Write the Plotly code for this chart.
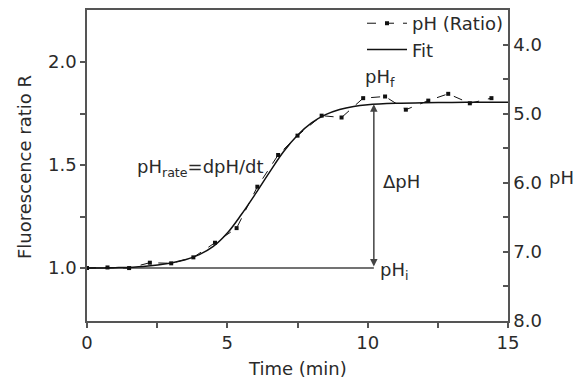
import plotly.graph_objects as go

# Measured data (Fluorescence ratio R vs time)
t_data = [0.0, 0.73, 1.5, 2.24, 3.0, 3.79, 4.56, 5.33, 6.07, 6.81, 7.50, 8.36, 9.07, 9.84, 10.62, 11.36, 12.16, 12.87, 13.64, 14.41]
r_data = [1.0, 1.003, 1.0, 1.026, 1.023, 1.052, 1.123, 1.194, 1.395, 1.549, 1.643, 1.740, 1.731, 1.825, 1.833, 1.769, 1.813, 1.846, 1.800, 1.825]

# Fit curve
t_fit = [0.0, 1.0, 2.0, 3.0, 3.5, 4.0, 4.5, 5.0, 5.5, 6.0, 6.5, 7.0, 7.5, 8.0, 8.5, 9.0, 9.5, 10.0, 11.0, 12.0, 13.0, 14.0, 15.0]
r_fit = [1.0, 1.002, 1.008, 1.025, 1.04, 1.065, 1.105, 1.17, 1.26, 1.36, 1.465, 1.565, 1.645, 1.705, 1.745, 1.77, 1.785, 1.793, 1.8, 1.803, 1.804, 1.805, 1.805]

# Guide values
t_mark = 10.22
r_init = 1.0
r_final = 1.795

xticks = [0, 5, 10, 15]
yticks = [1.0, 1.5, 2.0]
ph_ticks = [4.0, 5.0, 6.0, 7.0, 8.0]

FONT = "DejaVu Sans, sans-serif"
FS = 18
AX = "#555555"
TXT = "#2a2a2a"

W, H = 580, 381
L, R, T, B = 87, 72, 10, 60
PW, PH = W - L - R, H - T - B


def px(xp):
    return (xp - L) / PW


def py(yp):
    return (H - B - yp) / PH


fig = go.Figure()

# horizontal guide line at initial level
fig.add_trace(go.Scatter(x=[0, t_mark], y=[r_init, r_init], mode="lines",
                         line=dict(color="#444444", width=1.5), showlegend=False, hoverinfo="skip"))

fig.add_trace(go.Scatter(x=t_data, y=r_data, mode="lines+markers", name="pH (Ratio)",
                         line=dict(color="#111111", width=1, dash="dash"),
                         marker=dict(symbol="square", size=4, color="#111111")))
fig.add_trace(go.Scatter(x=t_fit, y=r_fit, mode="lines", name="Fit",
                         line=dict(color="#111111", width=1.5, shape="spline")))

# dummy trace for right axis
fig.add_trace(go.Scatter(x=[None], y=[None], yaxis="y2", showlegend=False))

fig.add_annotation(x=t_mark, y=r_final, ax=t_mark, ay=r_init, xref="x", yref="y", axref="x", ayref="y",
                   showarrow=True, arrowhead=2, startarrowhead=2, arrowside="end+start",
                   arrowsize=1, arrowwidth=1.5, arrowcolor="#444444", text="")

ann_font = dict(family=FONT, size=FS, color=TXT)
fig.add_annotation(x=9.83, y=1.925, text="pH<sub>f</sub>", showarrow=False, xanchor="left", yanchor="middle", font=ann_font)
fig.add_annotation(x=10.47, y=1.422, text="ΔpH", showarrow=False, xanchor="left", yanchor="middle", font=ann_font)
fig.add_annotation(x=10.37, y=0.985, text="pH<sub>i</sub>", showarrow=False, xanchor="left", yanchor="middle", font=ann_font)
fig.add_annotation(x=1.72, y=1.485, text="pH<sub>rate</sub>=dpH/dt", showarrow=False, xanchor="left", yanchor="middle", font=ann_font)

# axis titles as paper annotations
fig.add_annotation(x=px(561), y=py(177), xref="paper", yref="paper", text="pH", showarrow=False,
                   xanchor="center", yanchor="middle", font=ann_font)
fig.add_annotation(x=px(24), y=py(167), xref="paper", yref="paper", text="Fluorescence ratio R", showarrow=False,
                   xanchor="center", yanchor="middle", textangle=-90, font=ann_font)
fig.add_annotation(x=px(297), y=py(368), xref="paper", yref="paper", text="Time (min)", showarrow=False,
                   xanchor="center", yanchor="middle", font=ann_font)

fig.update_layout(
    width=W, height=H,
    margin=dict(l=L, r=R, t=T, b=B, autoexpand=False),
    paper_bgcolor="white", plot_bgcolor="white",
    font=dict(family=FONT, size=FS, color=TXT),
    showlegend=True,
    legend=dict(x=1.0, y=1.016, xanchor="right", yanchor="top", bgcolor="rgba(0,0,0,0)",
                font=dict(family=FONT, size=FS, color=TXT), tracegroupgap=0, borderwidth=0,
                itemwidth=40),
    xaxis=dict(range=[0, 15], tickvals=xticks, showline=True, linecolor=AX, linewidth=1.5,
               mirror=True, ticks="outside", ticklen=5, tickcolor=AX, tickwidth=1.5,
               minor=dict(tickvals=[2.5, 7.5, 12.5], ticks="outside", ticklen=5, tickcolor=AX, tickwidth=1.5),
               showgrid=False, zeroline=False),
    yaxis=dict(range=[0.743, 2.253], tickvals=yticks, tickformat=".1f", showline=True, linecolor=AX, linewidth=1.5,
               ticks="outside", ticklen=5, tickcolor=AX, tickwidth=1.5,
               minor=dict(tickvals=[1.25, 1.75], ticks="outside", ticklen=5, tickcolor=AX, tickwidth=1.5),
               showgrid=False, zeroline=False),
    yaxis2=dict(range=[8.0, 3.5], overlaying="y", side="right", tickvals=ph_ticks, tickformat=".1f",
                showline=True, linecolor=AX, linewidth=1.5, ticks="inside", ticklen=5, tickcolor=AX, tickwidth=1.5,
                minor=dict(tickvals=[4.5, 5.5, 6.5, 7.5], ticks="inside", ticklen=5, tickcolor=AX, tickwidth=1.5),
                showgrid=False, zeroline=False),
)

fig.write_html("out.html")
